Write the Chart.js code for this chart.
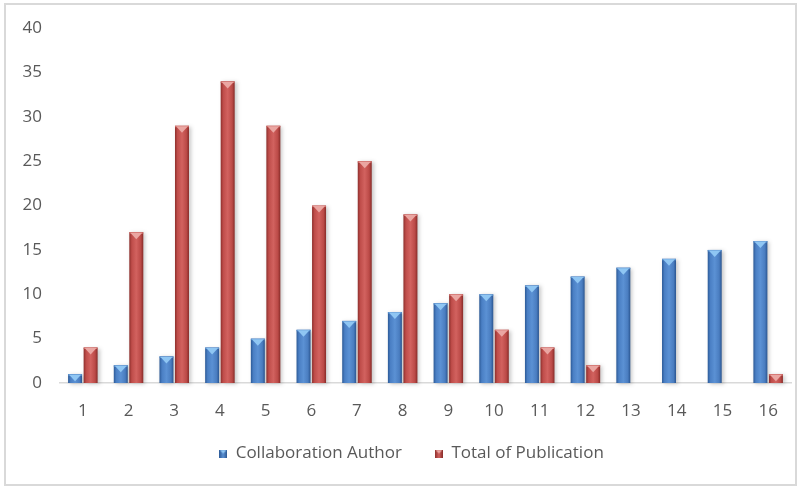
<!DOCTYPE html>
<html>
<head>
<meta charset="utf-8">
<script src="https://cdn.jsdelivr.net/npm/chart.js@4/dist/chart.umd.min.js"></script>
<style>
  html, body { margin: 0; padding: 0; background: #ffffff; }
  #wrap { width: 800px; height: 488px; }
</style>
</head>
<body>
<div id="wrap"><canvas id="c" width="800" height="488"></canvas></div>
<script>
// Categories along the x axis
const categories = ['1','2','3','4','5','6','7','8','9','10','11','12','13','14','15','16'];
// Series values
const collaborationAuthor = [1,2,3,4,5,6,7,8,9,10,11,12,13,14,15,16];
const totalOfPublication  = [4,17,29,34,29,20,25,19,10,6,4,2,0,0,0,1];
// Y axis ticks
const yTicks = [0,5,10,15,20,25,30,35,40];

// Bar palettes: edge/body/highlight stops and the bevelled cap colour
const palettes = [
  { base: '#4a7ec2', stops: ['#2c5a97', '#4a7fc4', '#5b91d4', '#4a7dc0', '#2a5590'], cap: '#8fc6f3', capEdge: '#5d93cf' },
  { base: '#c0504d', stops: ['#8e2f2c', '#bf4d4a', '#d2625f', '#bb4a47', '#872b28'], cap: '#eaa6a2', capEdge: '#cf6a66' }
];

function drawBevelBar(ctx, x, top, bottom, w, pal) {
  const left = x - w / 2, right = x + w / 2;
  const h = bottom - top;
  if (h <= 0) return;
  const g = ctx.createLinearGradient(left, 0, right, 0);
  const pos = [0, 0.18, 0.5, 0.82, 1];
  pal.stops.forEach((c, i) => g.addColorStop(pos[i], c));
  ctx.save();
  ctx.shadowColor = 'rgba(0,0,0,0.22)';
  ctx.shadowBlur = 4;
  ctx.shadowOffsetX = 2;
  ctx.shadowOffsetY = 1;
  ctx.fillStyle = g;
  ctx.fillRect(left, top, w, h);
  ctx.restore();
  // bevelled cap: light triangle pointing down
  const capH = Math.min(7, h);
  ctx.save();
  ctx.fillStyle = pal.capEdge;
  ctx.fillRect(left, top, w, Math.min(1.5, h));
  ctx.beginPath();
  ctx.moveTo(left + 1, top + 0.5);
  ctx.lineTo(right - 1, top + 0.5);
  ctx.lineTo(x, top + capH);
  ctx.closePath();
  ctx.fillStyle = pal.cap;
  ctx.fill();
  ctx.restore();
}

function legendSwatch(pal) {
  const c = document.createElement('canvas');
  c.width = 8; c.height = 8;
  const ctx = c.getContext('2d');
  const g = ctx.createLinearGradient(0, 0, 8, 0);
  g.addColorStop(0, pal.stops[0]);
  g.addColorStop(0.5, pal.stops[2]);
  g.addColorStop(1, pal.stops[4]);
  ctx.fillStyle = g;
  ctx.fillRect(0, 0, 8, 8);
  ctx.beginPath();
  ctx.moveTo(0.5, 0.5); ctx.lineTo(7.5, 0.5); ctx.lineTo(4, 4); ctx.closePath();
  ctx.fillStyle = pal.cap;
  ctx.fill();
  return c;
}
const swatches = palettes.map(legendSwatch);

// Paints the bevelled bars over the library's bar elements
const bevelBars = {
  id: 'bevelBars',
  afterDatasetsDraw(chart) {
    const ctx = chart.ctx;
    chart.data.datasets.forEach((ds, di) => {
      const meta = chart.getDatasetMeta(di);
      if (meta.hidden) return;
      meta.data.forEach((el, i) => {
        if (!ds.data[i]) return;
        const p = el.getProps(['x', 'y', 'base', 'width'], true);
        drawBevelBar(ctx, p.x, p.y, p.base, p.width, palettes[di]);
      });
    });
  }
};

// Frame around the whole chart
const frame = {
  id: 'frame',
  beforeDraw(chart) {
    const ctx = chart.ctx;
    ctx.save();
    ctx.fillStyle = '#ffffff';
    ctx.fillRect(0, 0, chart.width, chart.height);
    ctx.strokeStyle = '#d9d9d9';
    ctx.lineWidth = 2;
    ctx.strokeRect(5, 4, 791, 481);
    ctx.restore();
  }
};

// Nudge the legend box: centred under the plot and a little closer to the axis
const legendShift = {
  id: 'legendShift',
  afterLayout(chart) {
    const lg = chart.legend;
    if (!lg) return;
    const dx = 11, dy = -12;
    lg.left += dx; lg.right += dx;
    lg.top += dy; lg.bottom += dy;
    if (lg.legendHitBoxes) lg.legendHitBoxes.forEach(b => { b.left += dx; b.top += dy; });
  }
};

const textColor = '#595959';
const fontFamily = '"Open Sans", "DejaVu Sans", sans-serif';

new Chart(document.getElementById('c'), {
  type: 'bar',
  data: {
    labels: categories,
    datasets: [
      { label: 'Collaboration Author', data: collaborationAuthor, backgroundColor: 'rgba(0,0,0,0)', borderWidth: 0 },
      { label: 'Total of Publication', data: totalOfPublication, backgroundColor: 'rgba(0,0,0,0)', borderWidth: 0 }
    ]
  },
  options: {
    responsive: false,
    animation: false,
    devicePixelRatio: 1,
    layout: { padding: { top: 28, right: 9, bottom: 4, left: 10 } },
    datasets: { bar: { categoryPercentage: 0.68, barPercentage: 0.9 } },
    scales: {
      x: {
        grid: { display: false, drawTicks: false },
        border: { display: true, color: '#d9d9d9', width: 1.5 },
        ticks: { color: textColor, font: { family: fontFamily, size: 17 }, padding: 18, maxRotation: 0 },
        afterFit(s) { s.height = 41; }
      },
      y: {
        min: 0, max: 40,
        grid: { display: false, drawTicks: false },
        border: { display: false },
        afterBuildTicks(s) { s.ticks = yTicks.map(v => ({ value: v })); },
        ticks: { color: textColor, font: { family: fontFamily, size: 17 }, padding: 18 },
        afterFit(s) { s.width = 50; }
      }
    },
    plugins: {
      tooltip: { enabled: false },
      legend: {
        position: 'bottom',
        labels: {
          color: textColor,
          font: { family: fontFamily, size: 17 },
          padding: 33,
          usePointStyle: true,
          pointStyleWidth: 8,
          generateLabels(chart) {
            return chart.data.datasets.map((ds, i) => ({
              text: ds.label,
              pointStyle: swatches[i],
              fillStyle: palettes[i].base,
              strokeStyle: palettes[i].base,
              lineWidth: 0,
              fontColor: textColor,
              hidden: false,
              datasetIndex: i
            }));
          }
        }
      }
    }
  },
  plugins: [frame, legendShift, bevelBars]
});
</script>
</body>
</html>
